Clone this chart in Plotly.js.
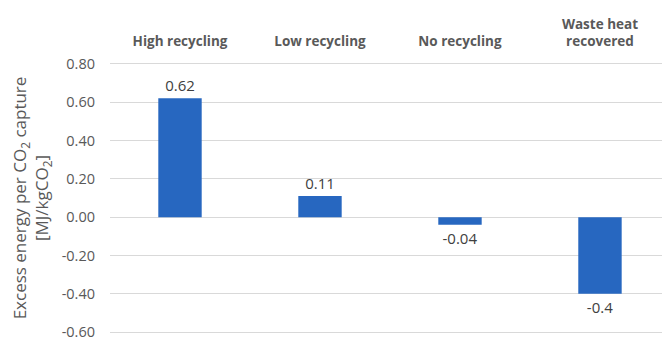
<!DOCTYPE html>
<html>
<head>
<meta charset="utf-8">
<script src="https://cdn.plot.ly/plotly-3.0.1.min.js"></script>
<style>
  html, body { margin: 0; padding: 0; background: #ffffff; }
  #chart { width: 662px; height: 339px; }
</style>
</head>
<body>
<div id="chart"></div>
<script>
// Excess energy per unit of CO2 captured, by process scenario
const categories = ["High recycling", "Low recycling", "No recycling", "Waste heat<br>recovered"];
const excessEnergy = [0.62, 0.11, -0.04, -0.4];
const yTickValues = [-0.6, -0.4, -0.2, 0, 0.2, 0.4, 0.6, 0.8];
const yTickLabels = ["-0.60", "-0.40", "-0.20", "0.00", "0.20", "0.40", "0.60", "0.80"];

const font = "'Open Sans', 'Noto Sans', sans-serif";

const trace = {
  type: "bar",
  x: categories,
  y: excessEnergy,
  text: excessEnergy.map(v => String(v)),
  textposition: "outside",
  textfont: { family: font, size: 15, color: "#404040" },
  cliponaxis: false,
  width: 0.31,
  marker: { color: "#2767c0", line: { width: 0 } },
  hoverinfo: "skip"
};

const layout = {
  width: 662,
  height: 339,
  margin: { l: 110, r: 0, t: 60, b: 3 },
  paper_bgcolor: "#ffffff",
  plot_bgcolor: "#ffffff",
  showlegend: false,
  font: { family: font, color: "#595959" },
  xaxis: {
    side: "top",
    type: "category",
    range: [-0.5, 3.443],
    showgrid: false,
    showline: false,
    zeroline: false,
    ticks: "",
    ticklabelstandoff: 10,
    tickfont: { family: font, size: 13.5, color: "#595959", weight: "bold" },
    fixedrange: true
  },
  yaxis: {
    range: [-0.62, 0.82],
    tickvals: yTickValues,
    ticktext: yTickLabels,
    tickfont: { family: font, size: 14.5, color: "#595959" },
    ticklabeloverflow: "allow",
    showgrid: true,
    gridcolor: "#d9d9d9",
    gridwidth: 1,
    zeroline: true,
    zerolinecolor: "#d9d9d9",
    zerolinewidth: 1,
    showline: false,
    ticks: "",
    ticklabelstandoff: 14,
    title: {
      text: "Excess energy per CO<sub>2</sub> capture<br>[MJ/kgCO<sub>2</sub>]",
      font: { family: font, size: 17, color: "#595959" },
      standoff: 8
    },
    automargin: false,
    fixedrange: true
  },
  bargap: 0.69
};

Plotly.newPlot("chart", [trace], layout, { displayModeBar: false, staticPlot: true });
</script>
</body>
</html>
